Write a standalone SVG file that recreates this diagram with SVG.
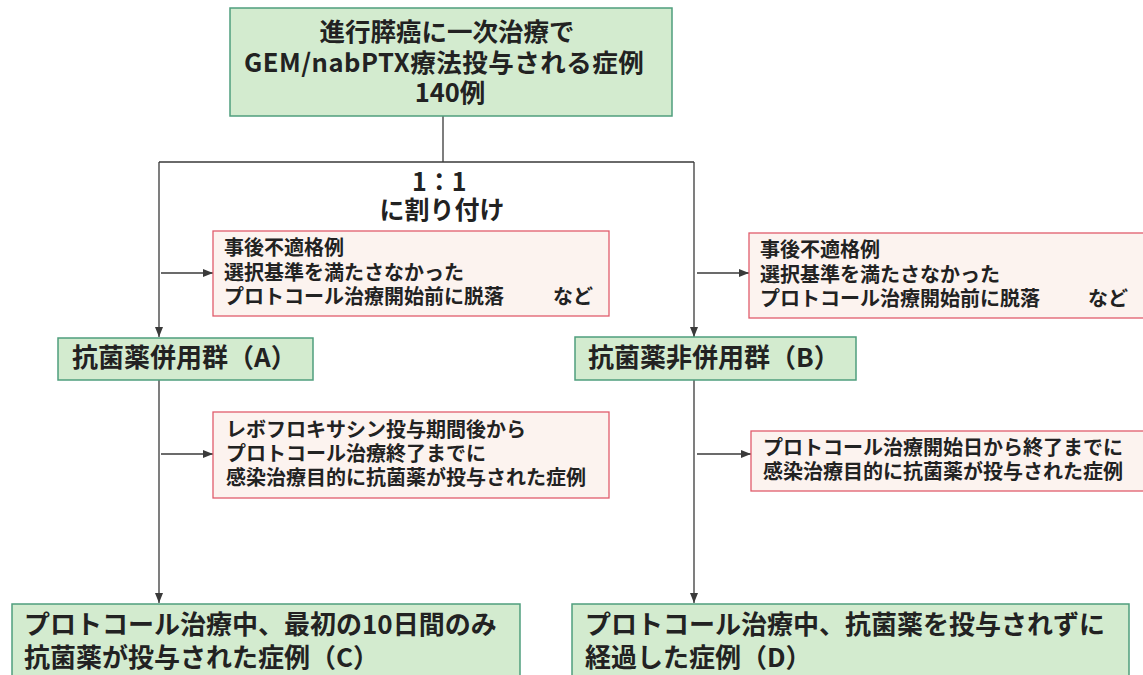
<svg xmlns="http://www.w3.org/2000/svg" width="1143" height="675" viewBox="0 0 1143 675">
<defs>
<marker id="arr" markerUnits="userSpaceOnUse" markerWidth="10" markerHeight="10" viewBox="0 0 10 10" refX="10" refY="5" orient="auto">
<path d="M0,1 L10,5 L0,9 Z" fill="#3a3a3a"/>
</marker>
<style>
.g{fill:#d3ebcf;stroke:#4f9e7d;stroke-width:1.5}
.r{fill:#fcf3ef;stroke:#e05c6c;stroke-width:1.3}
.t{font-family:"Noto Sans CJK JP","Noto Sans",sans-serif;font-weight:bold;fill:#222}
.big{font-size:25px}
.mid{font-size:26px}
.sm{font-size:20px}
.c{fill:none;stroke:#3a3a3a;stroke-width:1.3}
</style>
</defs>
<rect width="1143" height="675" fill="#ffffff"/>
<g id="connectors">
<path class="c" d="M443,116 V162 M159,162 H694"/>
<path class="c" d="M159,162 V337" marker-end="url(#arr)"/>
<path class="c" d="M694,162 V337" marker-end="url(#arr)"/>
<path class="c" d="M161,273 H213" marker-end="url(#arr)"/>
<path class="c" d="M697,273 H749" marker-end="url(#arr)"/>
<path class="c" d="M159,380 V603" marker-end="url(#arr)"/>
<path class="c" d="M694,380 V603" marker-end="url(#arr)"/>
<path class="c" d="M161,454 H213" marker-end="url(#arr)"/>
<path class="c" d="M697,454 H751" marker-end="url(#arr)"/>
</g>
<g id="top">
<rect class="g" x="230" y="8" width="442" height="108"/>
<text class="t" font-size="25.5" text-anchor="middle">
<tspan x="450" y="41">進行膵癌に一次治療で</tspan>
<tspan x="447" y="72" letter-spacing="0.5">GEM/nabPTX療法投与される症例</tspan>
<tspan x="450" y="102">140例</tspan>
</text>
</g>
<g id="ratio">
<text class="t big" text-anchor="middle">
<tspan x="442" y="191">1：1</tspan>
<tspan x="442" y="219">に割り付け</tspan>
</text>
</g>
<g id="exclA">
<rect class="r" x="213" y="231" width="396" height="85"/>
<text class="t sm">
<tspan x="224" y="255">事後不適格例</tspan>
<tspan x="224" y="280">選択基準を満たさなかった</tspan>
<tspan x="224" y="304">プロトコール治療開始前に脱落</tspan><tspan x="553" y="304">など</tspan>
</text>
</g>
<g id="exclB">
<rect class="r" x="749" y="233" width="400" height="85"/>
<text class="t sm">
<tspan x="760" y="257">事後不適格例</tspan>
<tspan x="760" y="282">選択基準を満たさなかった</tspan>
<tspan x="760" y="306">プロトコール治療開始前に脱落</tspan><tspan x="1088" y="306">など</tspan>
</text>
</g>
<g id="groupA">
<rect class="g" x="58" y="338" width="255" height="42"/>
<text class="t mid" x="72" y="367">抗菌薬併用群（A）</text>
</g>
<g id="groupB">
<rect class="g" x="575" y="337" width="281" height="43"/>
<text class="t mid" x="588" y="367">抗菌薬非併用群（B）</text>
</g>
<g id="condA">
<rect class="r" x="213" y="412" width="396" height="86"/>
<text class="t sm">
<tspan x="226" y="437">レボフロキサシン投与期間後から</tspan>
<tspan x="226" y="461">プロトコール治療終了までに</tspan>
<tspan x="226" y="485">感染治療目的に抗菌薬が投与された症例</tspan>
</text>
</g>
<g id="condB">
<rect class="r" x="751" y="431" width="400" height="60"/>
<text class="t sm">
<tspan x="763" y="455">プロトコール治療開始日から終了までに</tspan>
<tspan x="763" y="479">感染治療目的に抗菌薬が投与された症例</tspan>
</text>
</g>
<g id="groupC">
<rect class="g" x="12" y="604" width="508" height="80"/>
<text class="t mid">
<tspan x="24" y="634">プロトコール治療中、最初の10日間のみ</tspan>
<tspan x="24" y="667">抗菌薬が投与された症例（C）</tspan>
</text>
</g>
<g id="groupD">
<rect class="g" x="572" y="604" width="557" height="80"/>
<text class="t mid">
<tspan x="585" y="634">プロトコール治療中、抗菌薬を投与されずに</tspan>
<tspan x="585" y="667">経過した症例（D）</tspan>
</text>
</g>
</svg>
